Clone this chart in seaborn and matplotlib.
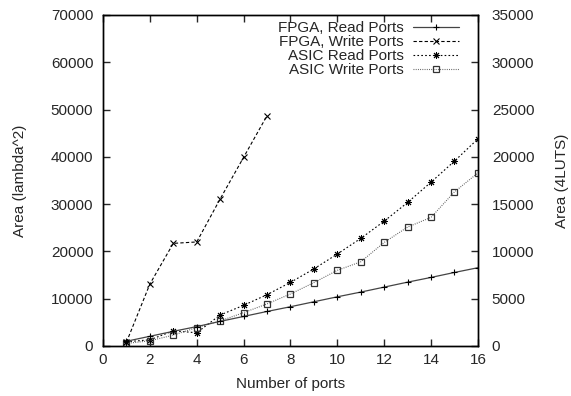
import seaborn as sns
import pandas as pd
import numpy as np
import matplotlib
matplotlib.use("Agg")
import matplotlib.pyplot as plt

# Data
ports = [1, 2, 3, 4, 5, 6, 7, 8, 9, 10, 11, 12, 13, 14, 15, 16]
fpga_write_ports = [1, 2, 3, 4, 5, 6, 7]

# FPGA series in 4LUTs (right axis)
fpga_read = [500, 1025, 1550, 2050, 2600, 3125, 3650, 4150,
             4675, 5200, 5700, 6225, 6750, 7250, 7775, 8275]
fpga_write = [400, 6550, 10850, 11000, 15550, 19950, 24350]

# ASIC series in lambda^2 (left axis)
asic_read = [900, 1300, 3200, 2800, 6550, 8600, 10850, 13450,
             16300, 19450, 22750, 26400, 30350, 34650, 39100, 43800]
asic_write = [550, 1100, 2300, 3900, 5300, 7050, 8900, 11000,
              13400, 16000, 17800, 21900, 25150, 27200, 32600, 36600]

sns.set_style("ticks")
plt.rcParams['font.family'] = ['Liberation Sans', 'DejaVu Sans']
plt.rcParams['font.size'] = 11

fig = plt.figure(figsize=(5.71, 3.96), dpi=100)
ax = fig.add_axes([0.1804, 0.1263, 0.6566, 0.8359])
ax2 = ax.twinx()

df_fr = pd.DataFrame({"ports": ports, "area": fpga_read})
df_fw = pd.DataFrame({"ports": fpga_write_ports, "area": fpga_write})
df_ar = pd.DataFrame({"ports": ports, "area": asic_read})
df_aw = pd.DataFrame({"ports": ports, "area": asic_write})

sns.lineplot(data=df_fr, x="ports", y="area", ax=ax2, color="#444444", lw=0.9,
             marker="+", markersize=4.5, markeredgewidth=0.8, markeredgecolor="black",
             label="FPGA, Read Ports")
sns.lineplot(data=df_fw, x="ports", y="area", ax=ax2, color="black", lw=0.8,
             linestyle=(0, (3, 2)), marker="x", markersize=4, markeredgewidth=0.8,
             markeredgecolor="black", label="FPGA, Write Ports")
sns.lineplot(data=df_ar, x="ports", y="area", ax=ax, color="black", lw=0.8,
             linestyle=(0, (1.5, 2)), marker=(8, 2, 0), markersize=5, markeredgewidth=0.7,
             markeredgecolor="black", label="ASIC Read Ports")
sns.lineplot(data=df_aw, x="ports", y="area", ax=ax, color="#555555", lw=0.8,
             linestyle=(0, (0.8, 1.2)), marker="s", markersize=4.5, markeredgewidth=0.9,
             markerfacecolor="none", markeredgecolor="#333333", label="ASIC Write Ports")

ax.set_xlim(0, 16)
ax.set_ylim(0, 70000)
ax2.set_ylim(0, 35000)
ax.set_xticks(np.arange(0, 17, 2))
ax.set_yticks(np.arange(0, 70001, 10000))
ax2.set_yticks(np.arange(0, 35001, 5000))

ax.set_xlabel("Number of ports", fontsize=11, labelpad=7)
ax.set_ylabel("Area (lambda^2)", fontsize=11, labelpad=17)
ax2.set_ylabel("Area (4LUTS)", fontsize=11, labelpad=15)

ax.tick_params(axis="x", direction="in", length=5, width=1, top=True, pad=5, labelsize=11)
ax.tick_params(axis="y", direction="in", length=5, width=1, pad=7, labelsize=11)
ax2.tick_params(axis="y", direction="in", length=5, width=1, pad=10, labelsize=11)

for a in (ax, ax2):
    for s in a.spines.values():
        s.set_visible(True)
        s.set_linewidth(1.0)
        s.set_color("black")

h1, l1 = ax2.get_legend_handles_labels()
h2, l2 = ax.get_legend_handles_labels()
ax.get_legend().remove()
ax2.get_legend().remove()
leg = ax2.legend(h1 + h2, l1 + l2, loc="upper right", bbox_to_anchor=(0.965, 1.0),
                 frameon=False, markerfirst=False, handlelength=3.0, handletextpad=0.6,
                 labelspacing=0.0, borderaxespad=0.0, fontsize=11)

fig.savefig("out.png", dpi=100)
